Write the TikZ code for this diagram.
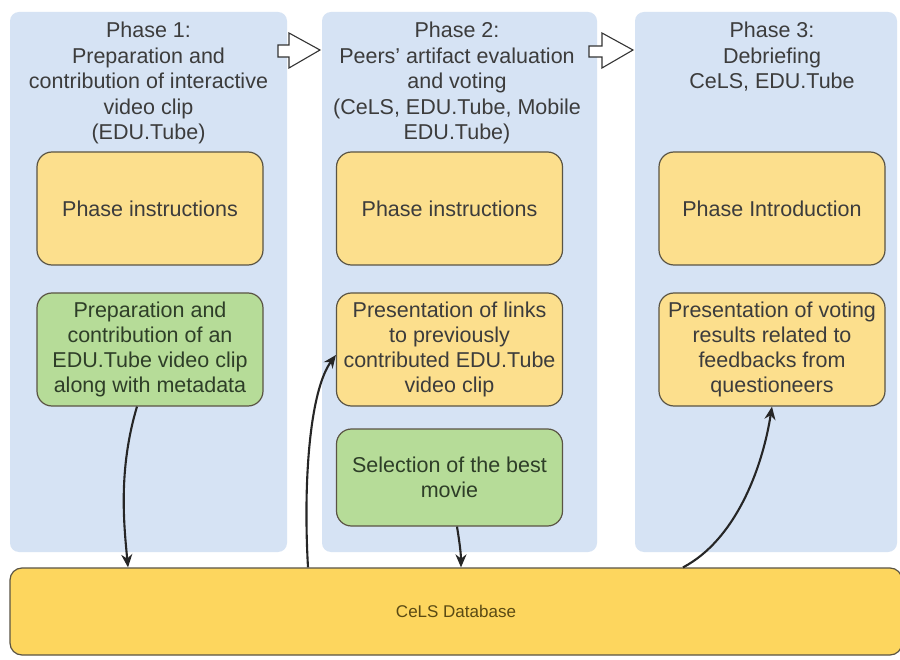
\documentclass[tikz,border=0pt]{standalone}
\usepackage{fontspec}
\setmainfont{Liberation Sans}
\usetikzlibrary{arrows.meta,calc}
\definecolor{panelblue}{HTML}{D6E3F4}
\definecolor{boxyellow}{HTML}{FCDF8D}
\definecolor{boxgreen}{HTML}{B6DC98}
\definecolor{dbyellow}{HTML}{FDD65E}
\definecolor{edgecol}{HTML}{5A5444}
\definecolor{txtcol}{HTML}{3C3C3C}
\definecolor{greentxt}{HTML}{2E3E28}
\definecolor{dbtxt}{HTML}{5A4A14}
\begin{document}
\begin{tikzpicture}[x=1pt,y=-1pt,
  panel/.style={fill=panelblue, rounded corners=9pt, minimum height=540pt, inner sep=0pt},
  title/.style={anchor=north, align=center, text=txtcol, font=\fontsize{21.5}{25.5}\selectfont, inner sep=0pt},
  card/.style={draw=edgecol, line width=1.2pt, rounded corners=15pt, minimum width=226pt, minimum height=113pt, align=center, text=txtcol, font=\fontsize{21.5}{25}\selectfont, inner sep=0pt},
  ycard/.style={card, fill=boxyellow},
  gcard/.style={card, fill=boxgreen, text=greentxt},
  flow/.style={-{Stealth[length=13pt,width=11pt]}, line width=2.1pt, black!85},
  hollow/.style={draw=black!80, fill=white, line width=1.1pt, line join=miter}
]
\useasboundingbox (0,0) rectangle (900,660);
\fill[white] (0,0) rectangle (900,660);

% panels
\node[panel, minimum width=277pt] (col1) at (148.5,282) {};
\node[panel, minimum width=275pt] (col2) at (459.5,282) {};
\node[panel, minimum width=262pt] (col3) at (766,282) {};

% transition arrows
\draw[hollow] (278,45) -- (289,45) -- (289,33) -- (320,50) -- (289,68) -- (289,57) -- (278,57) -- cycle;
\draw[hollow] (589,46) -- (602,46) -- (602,33) -- (633,50) -- (602,68) -- (602,57) -- (589,57) -- cycle;

% titles
\node[title] (t1) at (148.5,22) {Phase 1:\\Preparation and\\contribution of interactive\\video clip\\(EDU.Tube)};
\node[title] (t2) at (457,22) {Phase 2:\\Peers' artifact evaluation\\and voting\\(CeLS, EDU.Tube, Mobile\\EDU.Tube)};
\node[title] (t3) at (772,22) {Phase 3:\\Debriefing\\CeLS, EDU.Tube};

% cards
\node[ycard] (i1) at (150,208.5) {Phase instructions};
\node[ycard] (i2) at (449.5,208.5) {Phase instructions};
\node[ycard] (i3) at (772,208.5) {Phase Introduction};

\node[gcard] (p1) at (150,349.5) {Preparation and\\contribution of an\\EDU.Tube video clip\\along with metadata};
\node[ycard] (p2) at (449.5,349.5) {Presentation of links\\to previously\\contributed EDU.Tube\\video clip};
\node[ycard] (p3) at (772,349.5) {Presentation of voting\\results related to\\feedbacks from\\questioneers};

\node[gcard, minimum height=97pt] (sel) at (449.5,477.5) {Selection of the best\\movie};

% database
\node[draw=edgecol, line width=1.2pt, fill=dbyellow, rounded corners=12pt, minimum width=892pt, minimum height=87pt, inner sep=0pt, text=dbtxt, font=\fontsize{17}{20}\selectfont] (db) at (456,611.5) {CeLS Database};

% connectors
\draw[flow] ([xshift=-13pt]p1.south) .. controls (118,470) and (124,525) .. ([xshift=-328pt]db.north);
\draw[flow] ([xshift=-148pt]db.north) .. controls (303,480) and (310,390) .. ([yshift=-5.5pt]p2.west);
\draw[flow] ([xshift=7.5pt]sel.south) .. controls (460,545) and (461,555) .. ([xshift=5pt]db.north);
\draw[flow] ([xshift=227pt]db.north) .. controls (735,540) and (762,470) .. (p3.south);
\end{tikzpicture}
\end{document}
